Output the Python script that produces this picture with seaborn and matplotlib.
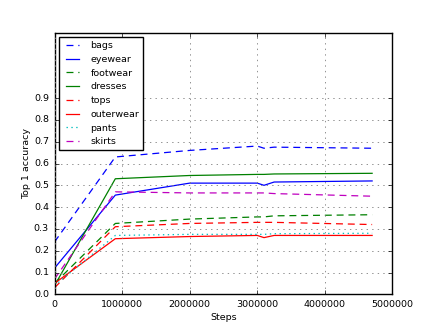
import matplotlib
matplotlib.use("Agg")
import matplotlib.pyplot as plt
import pandas as pd
import seaborn as sns

steps = [0, 900000, 2000000, 3000000, 3100000, 3250000, 4700000]

bags = [0.24, 0.63, 0.66, 0.68, 0.67, 0.675, 0.67]
eyewear = [0.12, 0.455, 0.51, 0.51, 0.50, 0.515, 0.52]
footwear = [0.05, 0.325, 0.345, 0.355, 0.355, 0.36, 0.365]
dresses = [0.04, 0.53, 0.545, 0.55, 0.55, 0.552, 0.555]
tops = [0.03, 0.31, 0.325, 0.33, 0.33, 0.33, 0.32]
outerwear = [0.05, 0.255, 0.265, 0.27, 0.26, 0.27, 0.27]
pants = [0.04, 0.27, 0.275, 0.275, 0.275, 0.278, 0.28]
skirts = [0.07, 0.47, 0.465, 0.465, 0.465, 0.462, 0.45]

names = ["bags", "eyewear", "footwear", "dresses", "tops", "outerwear", "pants", "skirts"]
series = [bags, eyewear, footwear, dresses, tops, outerwear, pants, skirts]
colors = ["b", "b", "g", "g", "r", "r", "c", "m"]
dashed = (0, (5, 3.5))
styles = [dashed, "-", dashed, "-", dashed, "-", (0, (1, 2.5)), dashed]

plt.style.use("classic")
plt.rcParams["font.family"] = ["DejaVu Sans"]
plt.rcParams["font.size"] = 6.8

fig, ax = plt.subplots(figsize=(4.36, 3.27), dpi=100)
fig.patch.set_facecolor("white")

handles = []
for name, vals, c, ls in zip(names, series, colors, styles):
    df = pd.DataFrame({"Steps": steps, "acc": vals})
    sns.lineplot(data=df, x="Steps", y="acc", ax=ax, color=c, linestyle=ls,
                 linewidth=0.9, legend=False)
    handles.append(ax.get_lines()[-1])

ax.set_xlim(0, 5000000)
ax.set_ylim(0, 1.2)
ax.set_xticks([0, 1000000, 2000000, 3000000, 4000000, 5000000])
ax.set_xticklabels(["0", "1000000", "2000000", "3000000", "4000000", "5000000"])
ax.set_yticks([0.0, 0.1, 0.2, 0.3, 0.4, 0.5, 0.6, 0.7, 0.8, 0.9])
ax.tick_params(labelsize=6.8, length=3)
ax.set_xlabel("Steps", fontsize=6.8, labelpad=3)
ax.set_ylabel("Top 1 accuracy", fontsize=6.8, labelpad=2)
ax.grid(True, linestyle=":", color="gray", linewidth=0.6)
ax.legend(handles, names, loc="upper left", fontsize=6.8, handlelength=2.0,
          handletextpad=0.9, borderpad=0.4, labelspacing=0.5, framealpha=1)

fig.subplots_adjust(left=0.125, right=0.9, bottom=0.1, top=0.9)
fig.savefig("out.png", dpi=100, facecolor="white")
